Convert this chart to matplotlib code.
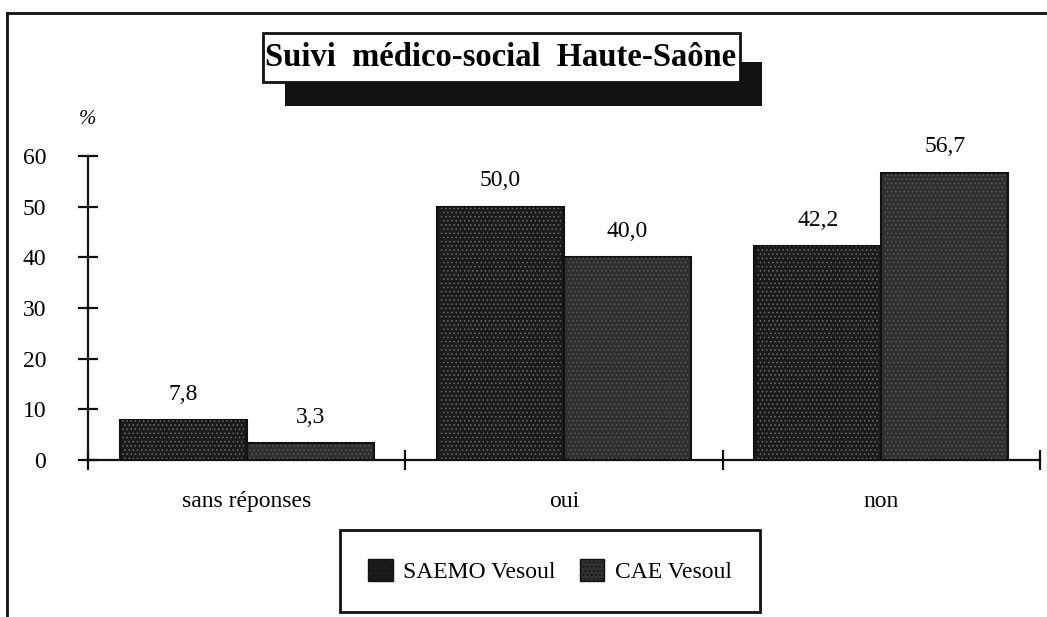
import matplotlib.pyplot as plt
from matplotlib.patches import Rectangle, Patch
from matplotlib.lines import Line2D
import numpy as np

plt.rcParams['font.family'] = ['Liberation Serif', 'DejaVu Serif']
plt.rcParams['hatch.linewidth'] = 0.6

categories = ['sans réponses', 'oui', 'non']
saemo = [7.8, 50.0, 42.2]
cae = [3.3, 40.0, 56.7]
series_names = ['SAEMO Vesoul', 'CAE Vesoul']
yticks = [0, 10, 20, 30, 40, 50, 60]

W, H = 1047, 617
fig = plt.figure(figsize=(W / 100, H / 100), dpi=100)

def fx(px):
    return px / W

def fy(py):
    return 1 - py / H

ax = fig.add_axes([fx(88), fy(460), fx(1040) - fx(88), fy(156) - fy(460)])

x = np.arange(len(categories))
bw = 0.4
cols = ['#1b1b1b', '#303030']
hcols = ['#6a6a6a', '#5a5a5a']
for vals, off, c, hc in [(saemo, -bw / 2, cols[0], hcols[0]), (cae, bw / 2, cols[1], hcols[1])]:
    ax.bar(x + off, vals, bw, color=c, edgecolor='#111111', linewidth=1.5, zorder=2)
    ax.bar(x + off, vals, bw * 0.96, color='none', edgecolor=hc, hatch='....', linewidth=0, zorder=3)
    for xi, v in zip(x + off, vals):
        ax.annotate(f'{v:.1f}'.replace('.', ','), (xi, v), xytext=(0, 11),
                    textcoords='offset points', ha='center', va='bottom', fontsize=17)

ax.set_xlim(-0.5, len(categories) - 0.5)
ax.set_ylim(0, 60)
ax.set_yticks(yticks)
ax.set_yticklabels([str(t) for t in yticks], fontsize=17)
ax.set_xticks(np.arange(len(categories) + 1) - 0.5)
ax.set_xticklabels([])
ax.set_xticks(x, minor=True)
ax.set_xticklabels(categories, minor=True, fontsize=17)
ax.tick_params(axis='x', which='minor', length=0, pad=22)
ax.tick_params(axis='both', which='major', direction='inout', length=14, width=1.6, color='#111111')
ax.tick_params(axis='y', pad=23)
for s in ['top', 'right']:
    ax.spines[s].set_visible(False)
for s in ['left', 'bottom']:
    ax.spines[s].set_linewidth(1.6)
    ax.spines[s].set_color('#111111')
ax.patch.set_alpha(0)

fig.text(fx(88), fy(120), '%', ha='center', va='center', fontsize=15, style='italic')

# outer frame
fig.add_artist(Line2D([fx(7), fx(7)], [fy(13), 0], color='#111111', lw=2))
fig.add_artist(Line2D([fx(7), 1], [fy(13), fy(13)], color='#111111', lw=2))

# title box with shadow
fig.add_artist(Rectangle((fx(285), fy(106)), fx(762) - fx(285), fy(62) - fy(106),
                         transform=fig.transFigure, facecolor='#111111', edgecolor='none'))
fig.add_artist(Rectangle((fx(263), fy(82)), fx(740) - fx(263), fy(33) - fy(82),
                         transform=fig.transFigure, facecolor='white', edgecolor='#111111', lw=2))
fig.text(fx(501), fy(58), 'Suivi  médico-social  Haute-Saône', ha='center', va='center',
         fontsize=23.5, fontweight='bold')

# legend box
fig.add_artist(Rectangle((fx(340), fy(612)), fx(760) - fx(340), fy(530) - fy(612),
                         transform=fig.transFigure, facecolor='white', edgecolor='#111111', lw=2))
handles = [Patch(facecolor=cols[0], edgecolor='#111111', hatch='....'),
           Patch(facecolor=cols[1], edgecolor='#111111', hatch='....')]
fig.legend(handles, series_names, loc='center', bbox_to_anchor=(fx(550), fy(571)), ncol=2,
           frameon=False, fontsize=17, handlelength=1.05, handleheight=1.05, columnspacing=1.0,
           handletextpad=0.45)

fig.savefig('out.png', dpi=100)
